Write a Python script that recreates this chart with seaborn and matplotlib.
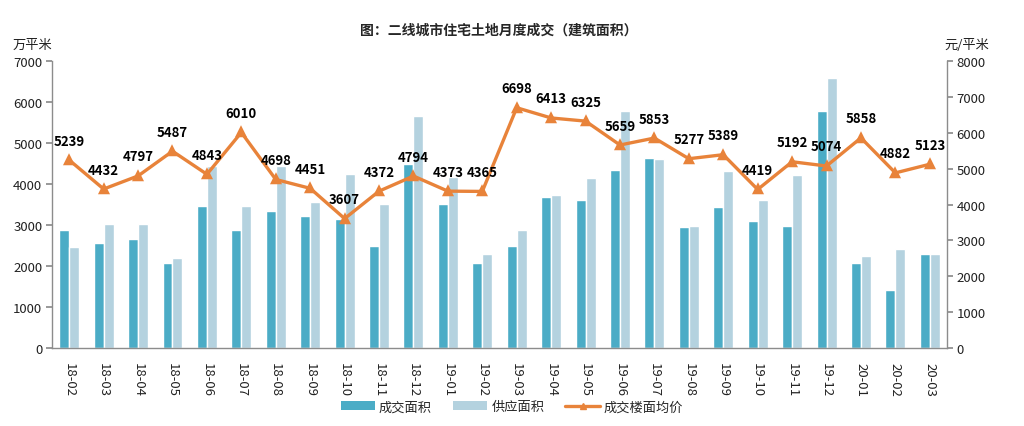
import matplotlib
matplotlib.use("Agg")
import matplotlib.pyplot as plt
import seaborn as sns
import pandas as pd
from matplotlib.patches import Patch
from matplotlib.lines import Line2D

months = ["18-02", "18-03", "18-04", "18-05", "18-06", "18-07", "18-08", "18-09",
          "18-10", "18-11", "18-12", "19-01", "19-02", "19-03", "19-04", "19-05",
          "19-06", "19-07", "19-08", "19-09", "19-10", "19-11", "19-12", "20-01",
          "20-02", "20-03"]
deal_area = [2890, 2570, 2650, 2080, 3470, 2890, 3330, 3230, 3150, 2500, 4490, 3520,
             2080, 2500, 3690, 3620, 4340, 4630, 2960, 3450, 3100, 2980, 5780, 2080,
             1420, 2300]
supply_area = [2470, 3030, 3030, 2200, 4450, 3470, 4450, 3570, 4250, 3520, 5670, 4170,
               2300, 2890, 3740, 4150, 5780, 4610, 2980, 4320, 3620, 4230, 6590, 2250,
               2420, 2300]
avg_price = [5239, 4432, 4797, 5487, 4843, 6010, 4698, 4451, 3607, 4372, 4794, 4373,
             4365, 6698, 6413, 6325, 5659, 5853, 5277, 5389, 4419, 5192, 5074, 5858,
             4882, 5123]

s1, s2, s3 = "成交面积", "供应面积", "成交楼面均价"
c_dark, c_light, c_line = "#4BACC6", "#B4D2DF", "#E8833A"

sns.set_theme(style="white")
plt.rcParams["font.family"] = ["Noto Sans CJK SC", "DejaVu Sans"]

df = pd.DataFrame({"month": months * 2,
                   "value": deal_area + supply_area,
                   "series": [s1] * len(months) + [s2] * len(months)})
dfl = pd.DataFrame({"month": months, "price": avg_price})

fig = plt.figure(figsize=(10.24, 4.27), dpi=100)
ax = fig.add_axes([0.0508, 0.1827, 0.874, 0.672])
sns.barplot(data=df, x="month", y="value", hue="series", order=months,
            palette=[c_dark, c_light], width=0.58, gap=0, ax=ax,
            saturation=1, legend=False)
ax.set_ylim(0, 7000)
ax.set_yticks(range(0, 7001, 1000))
ax.set_xlim(-0.5, len(months) - 0.5)
ax.set_xlabel("")
ax.set_ylabel("")

ax2 = ax.twinx()
sns.pointplot(data=dfl, x="month", y="price", order=months, color=c_line,
              markers="^", linestyles="-", ax=ax2, markersize=6, linewidth=2.4)
ax2.set_ylim(0, 8000)
ax2.set_yticks(range(0, 8001, 1000))
ax2.set_xlim(-0.5, len(months) - 0.5)
ax2.set_ylabel("")
ax2.set_xlabel("")

for i, v in enumerate(avg_price):
    ax2.annotate(str(v), (i, v), xytext=(0, 9), textcoords="offset points",
                 ha="center", va="bottom", fontsize=9.5, fontweight="bold",
                 color="black")

spine_c = "#8C8C8C"
for a in (ax, ax2):
    a.spines["top"].set_visible(False)
    for s in ("left", "right", "bottom"):
        a.spines[s].set_color(spine_c)
        a.spines[s].set_linewidth(1)
ax.spines["right"].set_visible(False)
ax2.spines["left"].set_visible(False)
ax2.spines["bottom"].set_visible(False)

ax.tick_params(axis="y", which="both", left=True, length=4, color=spine_c,
               labelsize=9.5, labelcolor="#222222", pad=3)
ax.tick_params(axis="x", bottom=False, labelsize=9.5, labelcolor="#222222", pad=4)
ax2.tick_params(axis="y", right=True, length=4, color=spine_c, labelsize=9.5,
                labelcolor="#222222", pad=3)
ax.set_xticks(range(len(months)))
ax.set_xticklabels(months, rotation=-90)
ax2.tick_params(axis="x", bottom=False, labelbottom=False)

fig.text(0.487, 0.928, "图：二线城市住宅土地月度成交（建筑面积）", ha="center",
         va="center", fontsize=10, fontweight="bold")
fig.text(0.012, 0.893, "万平米", ha="left", va="center", fontsize=9.5, color="#222222")
fig.text(0.922, 0.893, "元/平米", ha="left", va="center", fontsize=9.5, color="#222222")

handles = [Patch(facecolor=c_dark, edgecolor="none"),
           Patch(facecolor=c_light, edgecolor="none"),
           Line2D([0], [0], color=c_line, lw=2.4, marker="^", markersize=5)]
fig.legend(handles, [s1, s2, s3], loc="center", bbox_to_anchor=(0.5, 0.045),
           ncol=3, frameon=False, fontsize=9.5, handlelength=2.6,
           handleheight=0.6, columnspacing=1.6, handletextpad=0.3)

fig.savefig("out.png", dpi=100)
